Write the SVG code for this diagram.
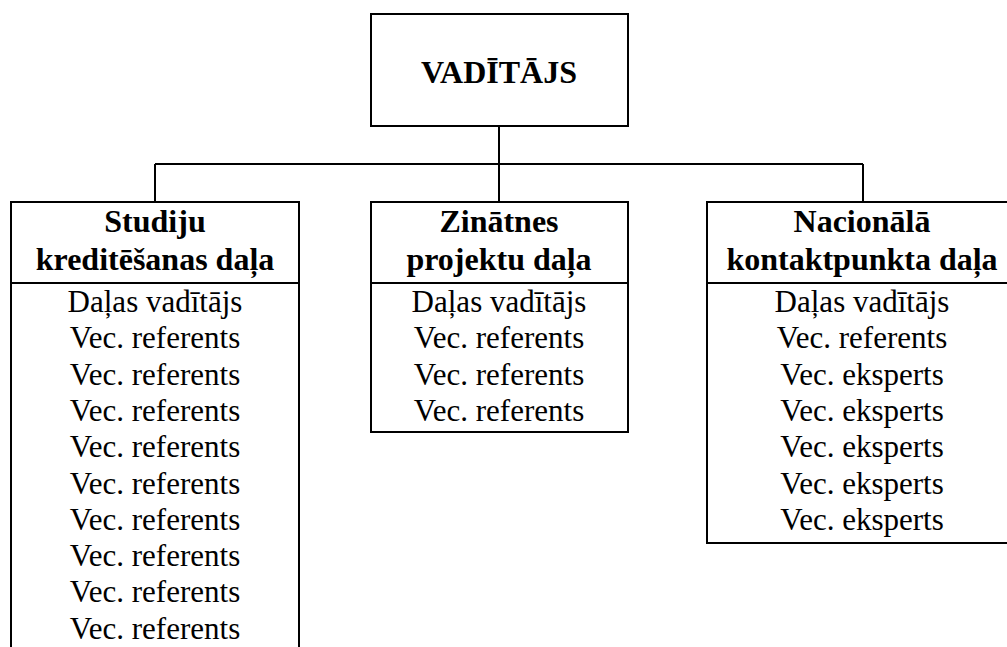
<svg xmlns="http://www.w3.org/2000/svg" width="1007" height="647" viewBox="0 0 1007 647">
<style>
.box{fill:#fff;stroke:#000;stroke-width:2}
.ln{stroke:#000;stroke-width:2;fill:none}
.h{font-family:"Liberation Serif","Times New Roman",serif;font-weight:bold;font-size:32px;text-anchor:middle;fill:#000}
.b{font-family:"Liberation Serif","Times New Roman",serif;font-size:31px;text-anchor:middle;fill:#000}
</style>
<rect width="1007" height="647" fill="#fff"/>
<g id="connectors">
<path class="ln" d="M499 126V164M155 164H863M155 164V202M499 164V202M863 164V202"/>
</g>
<g id="top">
<rect class="box" x="371" y="14" width="257" height="112"/>
<text class="h" x="499" y="83">VADĪTĀJS</text>
</g>
<g id="studiju">
<rect class="box" x="11" y="202" width="288" height="460"/>
<line class="ln" x1="11" y1="283" x2="299" y2="283"/>
<text class="h" x="155" y="232">Studiju</text>
<text class="h" x="155" y="270">kreditēšanas daļa</text>
<text class="b" x="155" y="312">Daļas vadītājs</text>
<text class="b" x="155" y="348.3">Vec. referents</text>
<text class="b" x="155" y="384.6">Vec. referents</text>
<text class="b" x="155" y="420.9">Vec. referents</text>
<text class="b" x="155" y="457.2">Vec. referents</text>
<text class="b" x="155" y="493.5">Vec. referents</text>
<text class="b" x="155" y="529.8">Vec. referents</text>
<text class="b" x="155" y="566.1">Vec. referents</text>
<text class="b" x="155" y="602.4">Vec. referents</text>
<text class="b" x="155" y="638.7">Vec. referents</text>
</g>
<g id="zinatnes">
<rect class="box" x="371" y="202" width="257" height="230"/>
<line class="ln" x1="371" y1="283" x2="628" y2="283"/>
<text class="h" x="499" y="232">Zinātnes</text>
<text class="h" x="499" y="270">projektu daļa</text>
<text class="b" x="499" y="312">Daļas vadītājs</text>
<text class="b" x="499" y="348.3">Vec. referents</text>
<text class="b" x="499" y="384.6">Vec. referents</text>
<text class="b" x="499" y="420.9">Vec. referents</text>
</g>
<g id="nacionala">
<rect class="box" x="707" y="202" width="312" height="341"/>
<line class="ln" x1="707" y1="283" x2="1019" y2="283"/>
<text class="h" x="862" y="232">Nacionālā</text>
<text class="h" x="862" y="270">kontaktpunkta daļa</text>
<text class="b" x="862" y="312">Daļas vadītājs</text>
<text class="b" x="862" y="348.3">Vec. referents</text>
<text class="b" x="862" y="384.6">Vec. eksperts</text>
<text class="b" x="862" y="420.9">Vec. eksperts</text>
<text class="b" x="862" y="457.2">Vec. eksperts</text>
<text class="b" x="862" y="493.5">Vec. eksperts</text>
<text class="b" x="862" y="529.8">Vec. eksperts</text>
</g>
</svg>
